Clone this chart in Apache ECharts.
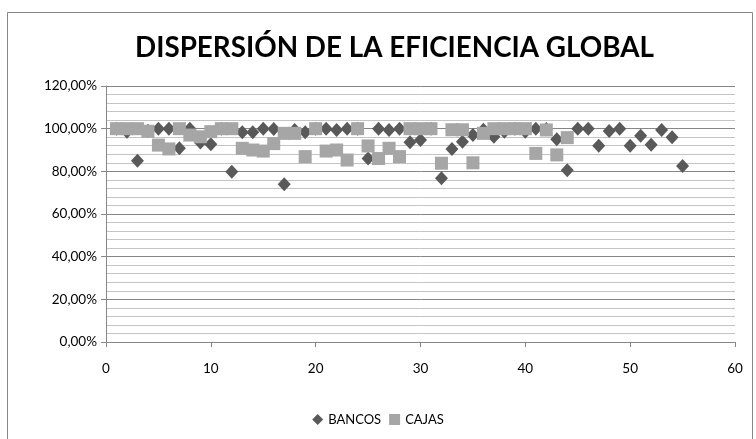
<!DOCTYPE html>
<html>
<head>
<meta charset="utf-8">
<script src="https://cdn.jsdelivr.net/npm/echarts@6/dist/echarts.min.js"></script>
<style>html,body{margin:0;padding:0;background:#fff}#c{width:756px;height:439px}</style>
</head>
<body>
<div id="c"></div>
<script>
const titleText = 'DISPERSIÓN DE LA EFICIENCIA GLOBAL';
const seriesNames = ['BANCOS', 'CAJAS'];
const bancos = [100, 98.5, 85, 99, 100, 100, 90.8, 100, 93.5, 92.7,
  100, 79.8, 98.3, 98.3, 100, 99.8, 74, 99.4, 98.3, 100,
  100, 99.4, 100, 100, 86, 100, 99.4, 100, 93.6, 94.7,
  100, 76.8, 90.5, 93.9, 97, 99.5, 96.2, 98.5, 100, 98.5,
  100, 99.8, 95, 80.5, 100, 100, 92, 98.9, 100, 92,
  96.7, 92.5, 99.4, 96, 82.5];
const cajas = [100, 100, 100, 98.8, 92.3, 90.5, 100, 97, 96.2, 98.6,
  100, 100, 90.8, 90, 89.5, 93, 97.8, 97.8, 86.9, 100,
  89.5, 90, 85.3, 100, 91.9, 86, 90.8, 86.9, 100, 100,
  100, 83.8, 99.5, 99.5, 84, 97.8, 100, 100, 100, 100,
  88.4, 99.4, 87.7, 95.8];
const xTicks = [0, 10, 20, 30, 40, 50, 60];
const yTicks = [0, 20, 40, 60, 80, 100, 120];

const toPts = arr => arr.map((v, i) => [i + 1, v]);
const FONT = 'Lato';
const chart = echarts.init(document.getElementById('c'), null, {renderer: 'canvas'});
chart.setOption({
  animation: false,
  backgroundColor: '#fff',
  graphic: [{
    type: 'rect', shape: {x: 7.5, y: 12.5, width: 745, height: 440},
    style: {fill: 'none', stroke: '#868686', lineWidth: 1}, silent: true, z: -1
  }],
  title: {
    text: titleText, left: 130, top: 29,
    textStyle: {fontFamily: FONT, fontWeight: 'bold', fontSize: 27.8, color: '#000'}
  },
  legend: {
    data: [{name: seriesNames[0], icon: 'diamond'}, {name: seriesNames[1], icon: 'rect'}],
    left: 'center', top: 408, itemWidth: 11, itemHeight: 11, itemGap: 8,
    textStyle: {fontFamily: FONT, fontSize: 13, color: '#000'}
  },
  grid: {left: 106, top: 86, right: 21, bottom: 97, containLabel: false},
  xAxis: {
    type: 'value', min: xTicks[0], max: xTicks[xTicks.length - 1], interval: 10,
    axisLine: {show: true, lineStyle: {color: '#868686', width: 1}},
    axisTick: {show: true, length: 5, lineStyle: {color: '#868686'}},
    axisLabel: {fontFamily: FONT, fontSize: 13.5, color: '#000', margin: 20},
    splitLine: {show: false}
  },
  yAxis: {
    type: 'value', min: yTicks[0], max: yTicks[yTicks.length - 1], interval: 20,
    axisLine: {show: true, lineStyle: {color: '#868686', width: 1}},
    axisTick: {show: true, length: 5, lineStyle: {color: '#868686'}},
    axisLabel: {fontFamily: FONT, fontSize: 13.5, color: '#000', margin: 9,
      formatter: v => v.toFixed(2).replace('.', ',') + '%'},
    splitLine: {show: true, lineStyle: {color: '#868686', width: 1}},
    minorTick: {show: false, splitNumber: 5},
    minorSplitLine: {show: true, lineStyle: {color: '#c4c4c4', width: 1}}
  },
  series: [
    {name: seriesNames[0], type: 'scatter', data: toPts(bancos), symbol: 'diamond',
      symbolSize: [13, 14], itemStyle: {color: '#595959', opacity: 1}, z: 2},
    {name: seriesNames[1], type: 'scatter', data: toPts(cajas), symbol: 'rect',
      symbolSize: 13, itemStyle: {color: '#a6a6a6', opacity: 1}, z: 3}
  ]
});
</script>
</body>
</html>
